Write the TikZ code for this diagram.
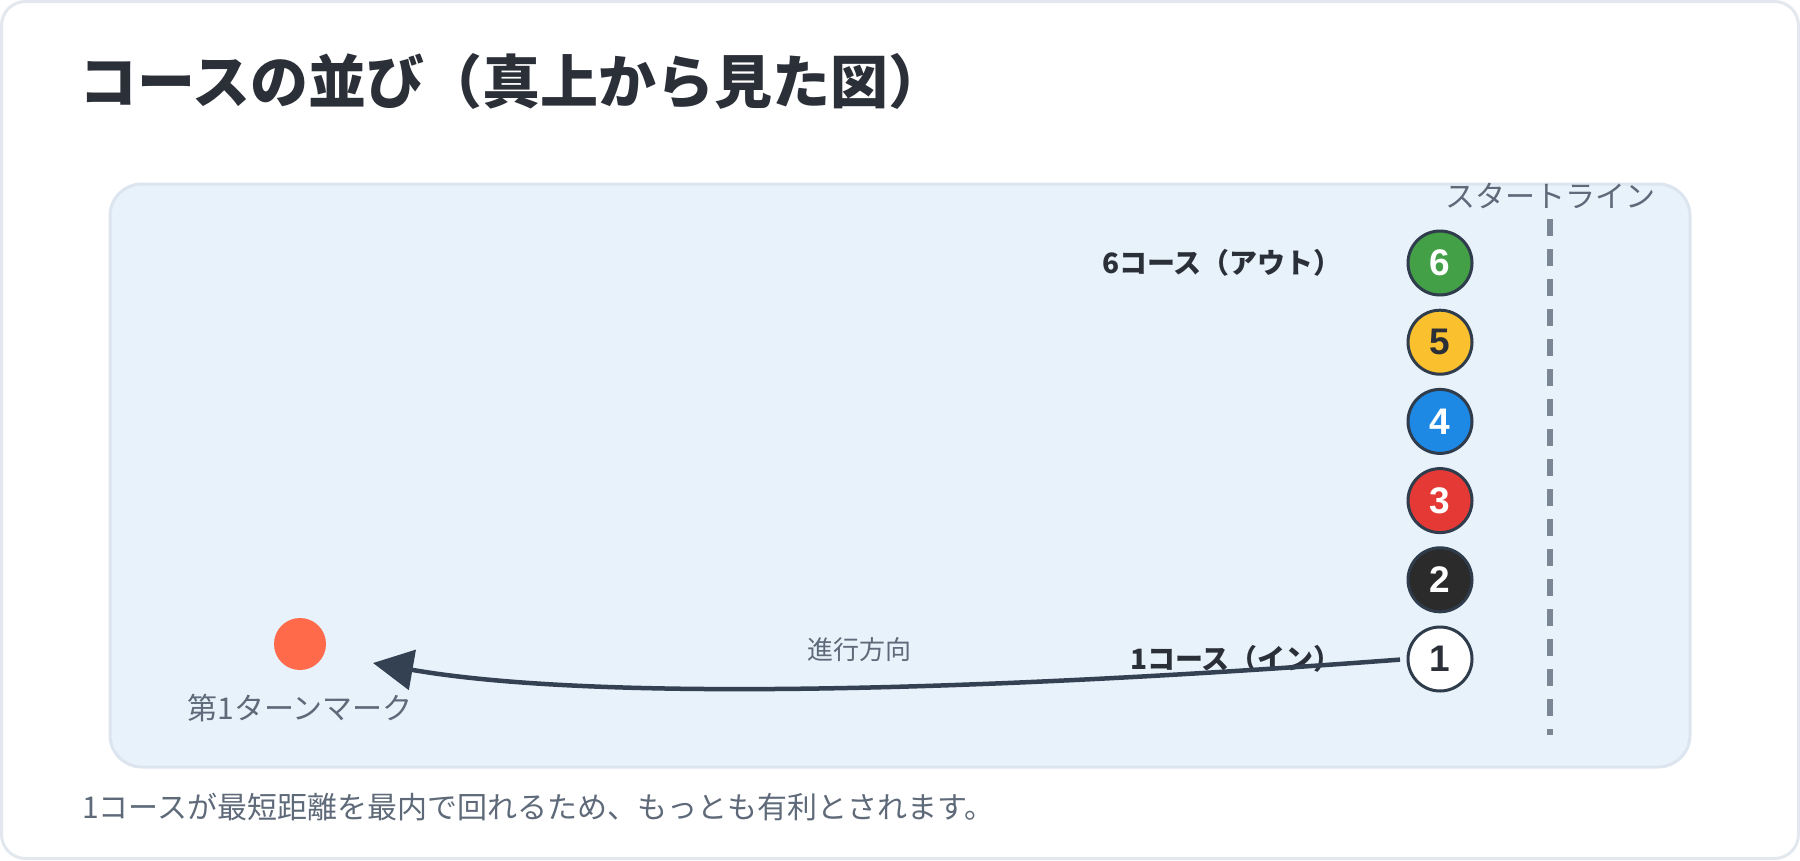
\documentclass[tikz,border=0pt]{standalone}
\usepackage{fontspec}
\setmainfont{Noto Sans CJK JP}
\newfontfamily\digitfont{Liberation Sans}[BoldFont={Liberation Sans Bold}]
\usepackage{tikz}
\usetikzlibrary{positioning,arrows.meta}
\definecolor{ink}{HTML}{2B2F38}
\definecolor{muted}{HTML}{5E6A79}
\definecolor{boatedge}{HTML}{2F3C4C}
\definecolor{arrowink}{HTML}{334152}
\definecolor{startgray}{HTML}{7A8694}
\definecolor{panelfill}{HTML}{E8F2FB}
\definecolor{paneledge}{HTML}{DCE5EF}
\definecolor{cardedge}{HTML}{E3E8EF}
\definecolor{turnred}{HTML}{FF6B4A}
\definecolor{boatgreen}{HTML}{43A047}
\definecolor{boatyellow}{HTML}{FBC02D}
\definecolor{boatblue}{HTML}{1E88E5}
\definecolor{boatred}{HTML}{E53935}
\definecolor{boatblack}{HTML}{2B2B2B}

\begin{document}
\begin{tikzpicture}[x=1pt, y=-1pt, node distance=15.2pt,
  boat/.style={circle, draw=boatedge, line width=3pt, minimum size=64pt,
    inner sep=0pt, outer sep=0pt, font=\digitfont\bfseries\fontsize{37}{37}\selectfont},
  courselabel/.style={inner sep=0pt, text=ink, font=\fontsize{28}{28}\selectfont\bfseries},
  graylabel/.style={inner sep=0pt, text=muted, font=\fontsize{30}{30}\selectfont}]
  \useasboundingbox (0,0) rectangle (1800,860);

  % Card and panel
  \draw[cardedge, line width=3pt, fill=white, rounded corners=24pt] (1.5,1.5) rectangle (1798.5,858.5);
  \draw[paneledge, line width=3pt, fill=panelfill, rounded corners=32pt] (110,184) rectangle (1690,767);

  % Title
  \node[anchor=west, inner sep=0pt, text=ink, font=\fontsize{58}{58}\selectfont\bfseries] (title)
    at (79,81) {コースの並び（真上から見た図）};

  % Start line
  \draw[startgray, line width=5.5pt, dash pattern=on 17pt off 13pt] (1550,219) -- (1550,735);
  \node[graylabel] (startlabel) at (1550,196) {スタートライン};

  % Boats, 1 (in) to 6 (out)
  \node[boat, fill=white, text=ink] (c1) at (1440,659) {1};
  \node[boat, fill=boatblack, text=white, above=of c1] (c2) {2};
  \node[boat, fill=boatred, text=white, above=of c2] (c3) {3};
  \node[boat, fill=boatblue, text=white, above=of c3] (c4) {4};
  \node[boat, fill=boatyellow, text=ink, above=of c4] (c5) {5};
  \node[boat, fill=boatgreen, text=white, above=of c5] (c6) {6};
  \node[courselabel, left=66pt of c6] (outlabel) {6コース（アウト）};
  \node[courselabel, left=66pt of c1] (inlabel) {1コース（イン）};

  % Turn mark
  \node[circle, fill=turnred, minimum size=52pt, inner sep=0pt] (mark) at (300,644) {};
  \node[graylabel, below=24pt of mark] (marklabel) {第1ターンマーク};

  % Direction arrow
  \coordinate (tip) at (373,663);
  \draw[arrowink, line width=4.5pt, -{Triangle[length=40pt, width=40pt]}, shorten <=8pt]
    (c1.west) .. controls (915,696) and (573,698) .. (tip);
  \node[inner sep=0pt, text=muted, font=\fontsize{26}{26}\selectfont] (dirlabel) at (859,650) {進行方向};

  % Note
  \node[graylabel, anchor=west] (note) at (82,807) {1コースが最短距離を最内で回れるため、もっとも有利とされます。};
\end{tikzpicture}
\end{document}
